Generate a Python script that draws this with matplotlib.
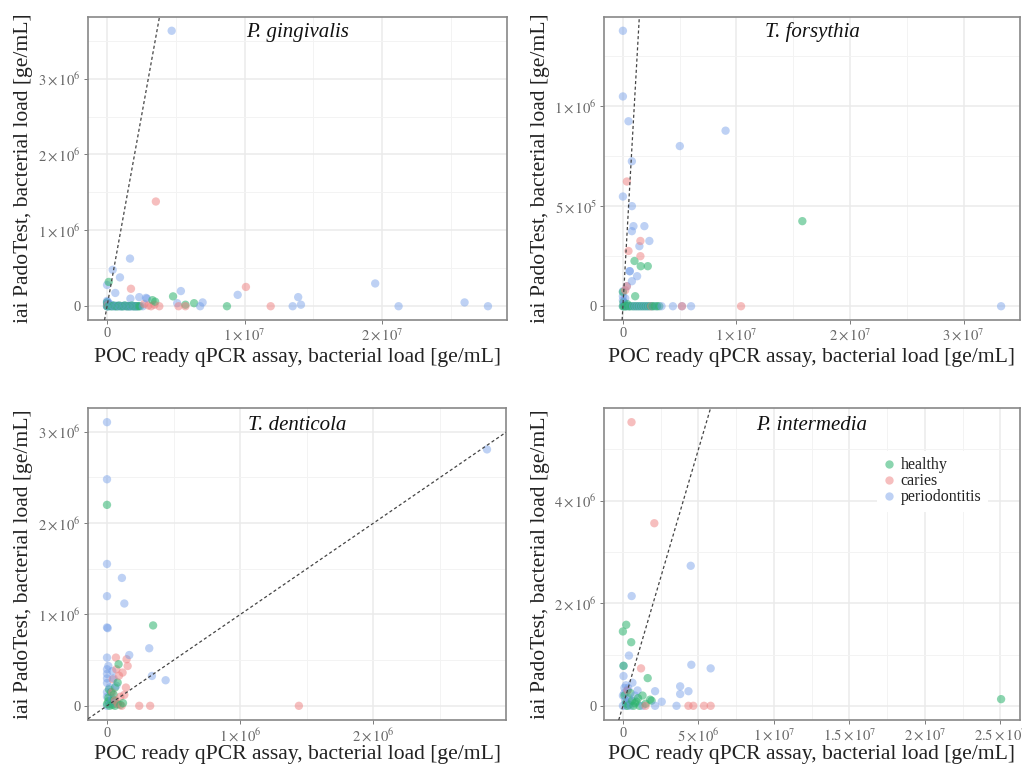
import matplotlib
matplotlib.use("Agg")
import matplotlib.pyplot as plt
from matplotlib.lines import Line2D
from matplotlib.colors import to_rgba

plt.rcParams['font.family'] = ['Liberation Serif', 'DejaVu Serif']
plt.rcParams['mathtext.fontset'] = 'stix'

M = 1e6
# ---------------- data (values in 10^6 ge/mL) ----------------
groups = ["healthy", "caries", "periodontitis"]
group_colors = {"healthy": "#2DB36E", "caries": "#EE7F7F", "periodontitis": "#6F9BE8"}
group_alpha = {"healthy": 0.55, "caries": 0.5, "periodontitis": 0.45}

# P. gingivalis
pg_healthy_x = [0.12, 4.8, 3.3, 3.5, 6.33, 5.7, 8.72, 0, 0.1, 0.2, 0.3, 0.4, 0.5, 0.6, 0.7, 0.8, 0.9, 1.0,
                1.1, 1.2, 1.3, 1.4, 1.5, 1.6, 1.7, 1.8, 1.9, 2.0, 2.1, 2.2, 2.3, 2.4, 0.0, 0.05]
pg_healthy_y = [0.32, 0.13, 0.08, 0.06, 0.04, 0.02, 0.0, 0.0, 0.0, 0.01, 0.0, 0.0, 0.01, 0.0, 0.0, 0.0, 0.01, 0.0,
                0.0, 0.0, 0.01, 0.0, 0.0, 0.0, 0.0, 0.01, 0.0, 0.0, 0.0, 0.0, 0.0, 0.0, 0.05, 0.03]
pg_caries_x = [3.55, 1.74, 10.1, 11.9, 5.2, 5.7, 3.0, 3.2, 3.45, 3.8, 2.7, 0.05]
pg_caries_y = [1.38, 0.23, 0.254, 0.0, 0.0, 0.0, 0.01, 0.0, 0.02, 0.0, 0.03, 0.02]
pg_perio_x = [4.7, 1.67, 0.41, 0.94, 0.0, 0.6, 1.7, 2.34, 2.9, 5.37, 9.5, 19.5, 13.9, 14.1, 13.5, 6.77, 6.95,
              21.2, 26.0, 27.7, 5.1, 0.0, 0.0, 0.0, 0.05, 0.1, 0.0, 0.15, 0.25, 0.35, 0.45, 0.55, 0.65, 0.75,
              0.85, 0.95, 1.05, 1.15, 1.25, 1.35, 1.45, 1.55, 1.65, 1.75, 1.85, 1.95, 2.05, 2.15, 2.25, 2.6,
              0.3, 2.83, 0.0, 0.02]
pg_perio_y = [3.63, 0.628, 0.48, 0.38, 0.28, 0.175, 0.1, 0.12, 0.1, 0.2, 0.15, 0.3, 0.12, 0.02, 0.0, 0.0, 0.05,
              0.0, 0.05, 0.0, 0.04, 0.07, 0.05, 0.03, 0.06, 0.04, 0.0, 0.0, 0.0, 0.01, 0.0, 0.0, 0.0, 0.01,
              0.0, 0.0, 0.0, 0.0, 0.01, 0.0, 0.0, 0.0, 0.0, 0.0, 0.0, 0.0, 0.0, 0.0, 0.0, 0.0,
              0.02, 0.11, 0.0, 0.01]

# T. forsythia
tf_healthy_x = [15.8, 1.02, 1.57, 2.19, 1.08, 0.0, 0.0, 0.1, 0.2, 0.3, 0.4, 0.5, 0.6, 0.8, 1.0, 1.2, 1.4, 1.6,
                1.8, 2.0, 2.2, 2.4, 2.6, 2.8, 3.0, 3.2, 0.05]
tf_healthy_y = [0.425, 0.226, 0.2, 0.2, 0.05, 0.071, 0.0, 0.0, 0.0, 0.0, 0.01, 0.0, 0.0, 0.0, 0.0, 0.0, 0.0, 0.0,
                0.0, 0.0, 0.0, 0.0, 0.0, 0.0, 0.0, 0.0, 0.02]
tf_caries_x = [0.35, 1.54, 0.49, 1.54, 0.35, 10.4, 5.2, 0.2, 2.5]
tf_caries_y = [0.623, 0.326, 0.276, 0.25, 0.1, 0.0, 0.0, 0.08, 0.0]
tf_perio_x = [0.0, 0.0, 0.49, 9.04, 5.01, 0.79, 0.0, 0.79, 1.89, 0.93, 0.79, 2.33, 1.45, 1.25, 0.6, 0.6, 0.79,
              0.35, 0.0, 4.4, 5.2, 6.0, 33.3, 0.0, 0.2, 0.0, 0.3, 0.6, 0.9, 1.1, 1.3, 1.5, 1.7, 1.9, 2.1, 2.3,
              2.6, 3.0, 3.4, 0.1, 0.0, 0.1]
tf_perio_y = [1.376, 1.048, 0.924, 0.877, 0.8, 0.724, 0.548, 0.5, 0.4, 0.4, 0.375, 0.326, 0.3, 0.15, 0.175, 0.175,
              0.125, 0.1, 0.075, 0.0, 0.0, 0.0, 0.0, 0.03, 0.04, 0.0, 0.0, 0.0, 0.0, 0.0, 0.0, 0.0, 0.0, 0.0,
              0.0, 0.0, 0.0, 0.0, 0.0, 0.01, 0.05, 0.02]

# T. denticola
td_healthy_x = [0.0, 0.346, 0.087, 0.08, 0.015, 0.01, 0.01, 0.03, 0.05, 0.0, 0.02, 0.04, 0.06, 0.08, 0.1, 0.12,
                0.03, 0.06, 0.05]
td_healthy_y = [2.2, 0.88, 0.455, 0.255, 0.18, 0.09, 0.05, 0.05, 0.06, 0.02, 0.0, 0.01, 0.0, 0.02, 0.01, 0.03,
                0.15, 0.2, 0.12]
td_caries_x = [0.067, 0.147, 0.155, 0.117, 0.043, 0.142, 0.1, 0.242, 0.324, 0.11, 1.44, 0.07, 0.09, 0.13, 0.06,
               0.08, 0.04]
td_caries_y = [0.528, 0.51, 0.436, 0.364, 0.29, 0.2, 0.1, 0.0, 0.0, 0.0, 0.0, 0.4, 0.33, 0.12, 0.06, 0.02, 0.15]
td_perio_x = [0.0, 0.0, 0.0, 0.112, 0.0, 0.13, 0.0, 0.005, 0.317, 0.167, 0.0, 0.01, 0.337, 0.44, 2.852, 0.0, 0.0,
              0.0, 0.0, 0.02, 0.0, 0.0, 0.03, 0.0, 0.05, 0.07, 0.04, 0.02, 0.04, 0.06]
td_perio_y = [3.105, 2.48, 1.553, 1.4, 1.2, 1.12, 0.858, 0.85, 0.63, 0.556, 0.528, 0.436, 0.327, 0.28, 2.807, 0.4,
              0.35, 0.3, 0.25, 0.2, 0.15, 0.1, 0.05, 0.0, 0.3, 0.22, 0.38, 0.02, 0.08, 0.03]

# P. intermedia
pi_healthy_x = [0.22, 0.0, 0.55, 1.64, 1.3, 1.8, 1.5, 25.04, 0.04, 0.2, 0.4, 0.6, 0.8, 1.0, 0.3, 0.7, 1.1, 0.1,
                0.5, 0.9, 1.9]
pi_healthy_y = [1.58, 1.45, 1.24, 0.54, 0.2, 0.12, 0.04, 0.13, 0.78, 0.05, 0.02, 0.1, 0.05, 0.15, 0.0, 0.0, 0.0,
                0.2, 0.25, 0.08, 0.1]
pi_caries_x = [0.57, 2.08, 1.2, 1.5, 4.34, 4.66, 5.37, 5.81, 0.3]
pi_caries_y = [5.53, 3.56, 0.73, 0.0, 0.0, 0.0, 0.0, 0.0, 0.3]
pi_perio_x = [4.49, 0.58, 0.4, 0.04, 4.53, 5.81, 0.04, 3.79, 4.34, 2.13, 3.79, 0.63, 0.97, 2.57, 3.55, 2.13, 0.1,
              0.2, 0.3, 0.0, 0.15, 0.4, 0.25, 0.0, 0.5, 1.3, 0.8, 0.1, 0.35, 0.2, 0.45]
pi_perio_y = [2.73, 2.14, 0.98, 0.78, 0.8, 0.73, 0.58, 0.38, 0.285, 0.285, 0.23, 0.45, 0.3, 0.08, 0.0, 0.0, 0.35,
              0.4, 0.3, 0.2, 0.1, 0.15, 0.05, 0.0, 0.0, 0.0, 0.2, 0.25, 0.35, 0.0, 0.1]

titles = ["P. gingivalis", "T. forsythia", "T. denticola", "P. intermedia"]
panel_data = [
    {"healthy": (pg_healthy_x, pg_healthy_y), "caries": (pg_caries_x, pg_caries_y), "periodontitis": (pg_perio_x, pg_perio_y)},
    {"healthy": (tf_healthy_x, tf_healthy_y), "caries": (tf_caries_x, tf_caries_y), "periodontitis": (tf_perio_x, tf_perio_y)},
    {"healthy": (td_healthy_x, td_healthy_y), "caries": (td_caries_x, td_caries_y), "periodontitis": (td_perio_x, td_perio_y)},
    {"healthy": (pi_healthy_x, pi_healthy_y), "caries": (pi_caries_x, pi_caries_y), "periodontitis": (pi_perio_x, pi_perio_y)},
]

xticks = [[0, 1e7, 2e7], [0, 1e7, 2e7, 3e7], [0, 1e6, 2e6], [0, 5e6, 1e7, 1.5e7, 2e7, 2.5e7]]
xticklabels = [["0", r"$1\times10^{7}$", r"$2\times10^{7}$"],
               ["0", r"$1\times10^{7}$", r"$2\times10^{7}$", r"$3\times10^{7}$"],
               ["0", r"$1\times10^{6}$", r"$2\times10^{6}$"],
               ["0", r"$5\times10^{6}$", r"$1\times10^{7}$", r"$1.5\times10^{7}$", r"$2\times10^{7}$", r"$2.5\times10^{7}$"]]
xminor = [[0.5e7, 1.5e7, 2.5e7], [0.5e7, 1.5e7, 2.5e7], [0.5e6, 1.5e6, 2.5e6], [2.5e6, 7.5e6, 1.25e7, 1.75e7, 2.25e7]]
yticks = [[0, 1e6, 2e6, 3e6], [0, 5e5, 1e6], [0, 1e6, 2e6, 3e6], [0, 2e6, 4e6]]
yticklabels = [["0", r"$1\times10^{6}$", r"$2\times10^{6}$", r"$3\times10^{6}$"],
               ["0", r"$5\times10^{5}$", r"$1\times10^{6}$"],
               ["0", r"$1\times10^{6}$", r"$2\times10^{6}$", r"$3\times10^{6}$"],
               ["0", r"$2\times10^{6}$", r"$4\times10^{6}$"]]
yminor = [[0.5e6, 1.5e6, 2.5e6, 3.5e6], [2.5e5, 7.5e5, 1.25e6], [0.5e6, 1.5e6, 2.5e6], [1e6, 3e6, 5e6]]

xlabel = "POC ready qPCR assay, bacterial load [ge/mL]"
ylabel = "iai PadoTest, bacterial load [ge/mL]"

# ---------------- figure ----------------
W, H = 1022, 772
fig = plt.figure(figsize=(W / 100, H / 100), dpi=100)
boxes = [(88, 17, 507, 320), (604, 17, 1020, 320), (88, 408, 506, 720), (604, 408, 1020, 720)]

for i, (l, t, r, b) in enumerate(boxes):
    ax = fig.add_axes([l / W, 1 - b / H, (r - l) / W, (b - t) / H])
    # long-format table, drawn in order of the x value so groups interleave
    rows = []
    for g in ["periodontitis", "healthy", "caries"]:
        xs, ys = panel_data[i][g]
        for xv, yv in zip(xs, ys):
            rows.append((xv, yv, g))
    rows.sort(key=lambda rw: rw[0])
    ax.scatter([rw[0] * M for rw in rows], [rw[1] * M for rw in rows], s=36,
               c=[to_rgba(group_colors[rw[2]], group_alpha[rw[2]]) for rw in rows],
               edgecolors='none', zorder=3)
    ax.margins(0.05)
    ax.axline((0, 0), slope=1, color='#444444', lw=0.9, dashes=(2.5, 2), zorder=4)
    ax.set_xticks(xticks[i], xticklabels[i])
    ax.set_xticks(xminor[i], minor=True)
    ax.set_yticks(yticks[i], yticklabels[i])
    ax.set_yticks(yminor[i], minor=True)
    ax.grid(True, which='major', color='#EBEBEB', lw=1.1, zorder=0)
    ax.grid(True, which='minor', color='#F3F3F3', lw=0.7, zorder=0)
    ax.set_axisbelow(True)
    ax.tick_params(which='major', length=3, width=0.6, color='#666666', labelsize=10.5, labelcolor='#666666', pad=2)
    ax.tick_params(which='minor', length=0)
    for sp in ax.spines.values():
        sp.set_color('#888888')
        sp.set_linewidth(1.2)
    ax.set_xlabel(xlabel, fontsize=15.6, color='#222222')
    ax.set_ylabel(ylabel, fontsize=15.6, color='#222222')
    ylab_x = 24 if l < 500 else 540
    ax.yaxis.set_label_coords((ylab_x - l) / (r - l), 0.5)
    ax.xaxis.set_label_coords(0.5, ((b - (358 if b < 400 else 754)) / (b - t)))
    ax.xaxis.label.set_va('center')
    ax.yaxis.label.set_va('center')
    ax.text(0.5, 0.95 if b < 400 else 0.945, titles[i], transform=ax.transAxes, ha='center', va='center',
            fontsize=15, style='italic', color='#111111')
    if i == 3:
        hs = [Line2D([], [], ls='none', marker='o', markersize=6, markeredgewidth=0,
                     markerfacecolor=group_colors[g], alpha=group_alpha[g]) for g in groups]
        leg = ax.legend(hs, groups, loc='upper left', bbox_to_anchor=(0.636, 0.888), frameon=True,
                        framealpha=1, facecolor='white', edgecolor='none', fontsize=11.5,
                        handlelength=0.8, handletextpad=0.3, labelspacing=0.0, borderpad=0.4)
        for txt in leg.get_texts():
            txt.set_color('#222222')

fig.savefig("out.png", dpi=100)
